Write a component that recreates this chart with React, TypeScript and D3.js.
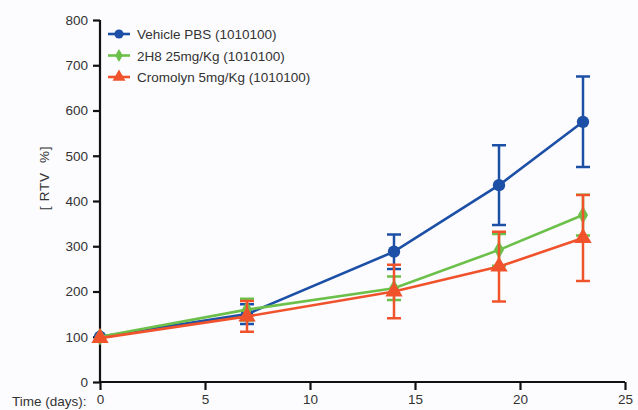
import { useEffect, useRef } from "react";
import * as d3 from "d3";

const days = [0, 7, 14, 19, 23];
const vehicle = [100, 150, 288, 435, 575];
const vehicleErr = [0, 22, 38, 88, 100];
const h2h8 = [100, 160, 207, 292, 369];
const h2h8Err = [0, 24, 26, 35, 45];
const cromolyn = [97, 145, 200, 255, 318];
const cromolynErr = [0, 34, 59, 77, 95];

const xTicks = [0, 5, 10, 15, 20, 25];
const yTicks = [0, 100, 200, 300, 400, 500, 600, 700, 800];

const series = [
  { name: "Vehicle PBS (1010100)", values: vehicle, err: vehicleErr, color: "#1c4fa6", symbol: d3.symbolCircle, size: 120 },
  { name: "2H8 25mg/Kg (1010100)", values: h2h8, err: h2h8Err, color: "#6cc04a", symbol: d3.symbolDiamond, size: 90 },
  { name: "Cromolyn 5mg/Kg (1010100)", values: cromolyn, err: cromolynErr, color: "#f0532c", symbol: d3.symbolTriangle, size: 130 },
];

const W = 638;
const H = 410;

const RtvChart = () => {
  const svgRef = useRef<SVGSVGElement>(null);

  useEffect(() => {
    const svg = d3.select(svgRef.current);
    svg.selectAll("*").remove();

    const x = d3.scaleLinear().domain([0, 25]).range([100, 625]);
    const y = d3.scaleLinear().domain([0, 800]).range([382, 20]);

    svg.append("rect").attr("width", W).attr("height", H).attr("fill", "#fcfcfe");

    const font = "Liberation Sans, Arial, sans-serif";

    // axes
    const xAxis = svg.append("g")
      .attr("transform", "translate(0,382)")
      .call(d3.axisBottom(x).tickValues(xTicks).tickSize(8).tickPadding(4).tickFormat(d3.format("d")));
    const yAxis = svg.append("g")
      .attr("transform", "translate(100,0)")
      .call(d3.axisLeft(y).tickValues(yTicks).tickSize(7).tickPadding(5).tickFormat(d3.format("d")));
    [xAxis, yAxis].forEach(a => {
      a.select(".domain").attr("stroke", "#111").attr("stroke-width", 2.2);
      a.selectAll(".tick line").attr("stroke", "#111").attr("stroke-width", 2.2);
      a.selectAll(".tick text").attr("fill", "#333").style("font-family", font).style("font-size", "13.5px");
    });
    xAxis.select(".domain").attr("d", "M100,0H625");
    yAxis.select(".domain").attr("d", "M0,382V20");

    svg.append("text")
      .attr("x", 12).attr("y", 406)
      .attr("fill", "#333")
      .style("font-family", font).style("font-size", "13.5px")
      .text("Time (days):");

    svg.append("text")
      .attr("transform", "translate(49,178) rotate(-90)")
      .attr("text-anchor", "middle")
      .attr("fill", "#333")
      .style("font-family", font).style("font-size", "13.5px")
      .style("white-space", "pre")
      .style("letter-spacing", "0.8px")
      .text("[ RTV  %]");

    const line = d3.line<number>()
      .x((d, i) => x(days[i]))
      .y(d => y(d));

    series.forEach(s => {
      const g = svg.append("g");
      // error bars
      s.values.forEach((v, i) => {
        if (!s.err[i]) return;
        const cx = x(days[i]);
        const top = y(v + s.err[i]);
        const bot = y(v - s.err[i]);
        g.append("path")
          .attr("d", `M${cx},${top}V${bot}M${cx - 7},${top}H${cx + 7}M${cx - 7},${bot}H${cx + 7}`)
          .attr("fill", "none")
          .attr("stroke", s.color)
          .attr("stroke-width", 2.5);
      });
      g.append("path")
        .datum(s.values)
        .attr("fill", "none")
        .attr("stroke", s.color)
        .attr("stroke-width", 2.6)
        .attr("d", line);
      g.selectAll("path.pt")
        .data(s.values)
        .join("path")
        .attr("class", "pt")
        .attr("transform", (d, i) => `translate(${x(days[i])},${y(d)})`)
        .attr("d", d3.symbol(s.symbol, s.size)())
        .attr("fill", s.color);
    });

    // legend
    const legend = svg.append("g");
    series.forEach((s, i) => {
      const ly = 34 + i * 21.5;
      legend.append("line")
        .attr("x1", 108).attr("x2", 130).attr("y1", ly).attr("y2", ly)
        .attr("stroke", s.color).attr("stroke-width", 2.6);
      legend.append("path")
        .attr("transform", `translate(119,${ly})`)
        .attr("d", d3.symbol(s.symbol, s.size * 0.55)())
        .attr("fill", s.color);
      legend.append("text")
        .attr("x", 137).attr("y", ly + 5)
        .attr("fill", "#333")
        .style("font-family", font).style("font-size", "13.5px")
        .text(s.name);
    });
  }, []);

  return <svg ref={svgRef} width={W} height={H} style={{ display: "block" }} />;
};

export default function App() {
  return (
    <div style={{ position: "absolute", left: 0, top: 0 }}>
      <RtvChart />
    </div>
  );
}
